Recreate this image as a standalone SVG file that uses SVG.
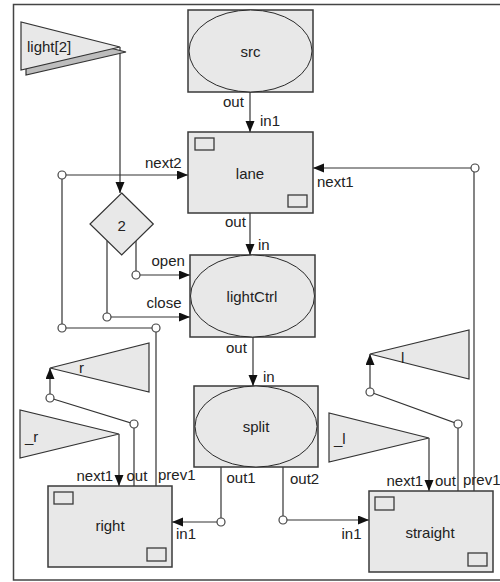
<svg xmlns="http://www.w3.org/2000/svg" width="500" height="582" viewBox="0 0 500 582">
<style>
text{font-family:"Liberation Sans",Arial,sans-serif;font-size:15px;fill:#222}
.box{fill:#e8e8e8;stroke:#3a3a3a;stroke-width:1.5}
.ell{fill:#e8e8e8;stroke:#2a2a2a;stroke-width:1}
.sm{fill:#e8e8e8;stroke:#3a3a3a;stroke-width:1.3}
.tri{fill:#e8e8e8;stroke:#333;stroke-width:1.2}
.ln{fill:none;stroke:#333;stroke-width:1.2}
.arr{fill:none;stroke:#333;stroke-width:1.2;marker-end:url(#ah)}
.dot{fill:#fff;stroke:#444;stroke-width:1.2}
.mid{text-anchor:middle}
</style>
<defs>
<marker id="ah" markerUnits="userSpaceOnUse" markerWidth="12" markerHeight="10" refX="11" refY="4.5" orient="auto">
<path d="M0,0 L11,4.5 L0,9 z" fill="#111"/>
</marker>
</defs>
<rect x="13.5" y="4.5" width="490" height="575.5" fill="#fff" stroke="#444" stroke-width="1.5"/>

<g id="connectors">
<path class="arr" d="M250,92 V132"/>
<path class="arr" d="M250,213 V255"/>
<path class="arr" d="M253,337 V386"/>
<path class="arr" d="M120,47 V193"/>
<path class="arr" d="M62,175 H188"/>
<path class="ln" d="M62,175 V328 H156 V486"/>
<path class="arr" d="M475,168 H313"/>
<path class="ln" d="M474,168 V491"/>
<path class="ln" d="M136,241 V275"/>
<path class="arr" d="M136,275 H190"/>
<path class="ln" d="M107,241 V317"/>
<path class="arr" d="M107,317 H190"/>
<path class="ln" d="M221,467 V522"/>
<path class="arr" d="M221,522 H172"/>
<path class="ln" d="M283,467 V520"/>
<path class="arr" d="M283,520 H369"/>
<path class="arr" d="M50,398 V368"/>
<path class="ln" d="M50,398 L134,424 V486"/>
<path class="arr" d="M119,434 V486"/>
<path class="arr" d="M370,392 V354"/>
<path class="ln" d="M370,392 L458,424 V491"/>
<path class="arr" d="M429,438 V491"/>
<circle class="dot" cx="62" cy="175" r="4"/>
<circle class="dot" cx="62" cy="328" r="4"/>
<circle class="dot" cx="156" cy="328" r="4"/>
<circle class="dot" cx="475" cy="168" r="4"/>
<circle class="dot" cx="136" cy="275" r="4"/>
<circle class="dot" cx="107" cy="317" r="4"/>
<circle class="dot" cx="221" cy="522" r="4"/>
<circle class="dot" cx="283" cy="520" r="4"/>
<circle class="dot" cx="50" cy="398" r="4"/>
<circle class="dot" cx="134" cy="424" r="4"/>
<circle class="dot" cx="370" cy="392" r="4"/>
<circle class="dot" cx="458" cy="424" r="4"/>
</g>

<g id="light2">
<polygon points="26,27 26,75 126,52" fill="#bdbdbd" stroke="#333" stroke-width="1.2"/>
<polygon class="tri" points="21,22 21,70 120,47"/>
<text x="27" y="52">light[2]</text>
</g>

<g id="src">
<rect class="box" x="188" y="10" width="125" height="82"/>
<ellipse class="ell" cx="250.5" cy="51" rx="61.5" ry="41"/>
<text class="mid" x="250.5" y="57">src</text>
<text x="223" y="107">out</text>
<text x="260" y="126">in1</text>
</g>

<g id="lane">
<rect class="box" x="188" y="132" width="125" height="81"/>
<rect class="sm" x="195" y="138" width="19" height="12"/>
<rect class="sm" x="288" y="195" width="19" height="12"/>
<text class="mid" x="250" y="179">lane</text>
<text x="145" y="168">next2</text>
<text x="317" y="186.5">next1</text>
<text x="225" y="227">out</text>
<text x="258" y="250">in</text>
</g>

<g id="decision">
<polygon class="tri" points="121.7,193 153.3,224 121.7,255 90,224"/>
<text class="mid" x="121.7" y="231">2</text>
</g>

<g id="lightCtrl">
<rect class="box" x="190" y="255" width="125" height="82"/>
<ellipse class="ell" cx="252.5" cy="296" rx="62" ry="41"/>
<text class="mid" x="252" y="302">lightCtrl</text>
<text x="151.5" y="266">open</text>
<text x="146.5" y="308">close</text>
<text x="226" y="353">out</text>
<text x="263" y="381.5">in</text>
</g>

<g id="split">
<rect class="box" x="194" y="386" width="124" height="81"/>
<ellipse class="ell" cx="256" cy="426.5" rx="61" ry="40.5"/>
<text class="mid" x="256" y="432">split</text>
<text x="226.5" y="483">out1</text>
<text x="290" y="484">out2</text>
</g>

<g id="gate_r">
<polygon class="tri" points="50,368 149,343 149,392"/>
<text x="79" y="373">r</text>
</g>

<g id="gate_nr">
<polygon class="tri" points="20,410 20,458 119,434"/>
<text x="25" y="442">_r</text>
</g>

<g id="gate_l">
<polygon class="tri" points="370,354 469,330 469,379"/>
<text x="401" y="362.5">l</text>
</g>

<g id="gate_nl">
<polygon class="tri" points="329,413 329,462 429,438"/>
<text x="334" y="444">_l</text>
</g>

<g id="right">
<rect class="box" x="48" y="486" width="124" height="81"/>
<rect class="sm" x="54" y="492" width="19" height="12"/>
<rect class="sm" x="147" y="548" width="19" height="13"/>
<text class="mid" x="110" y="531">right</text>
<text x="76.5" y="480.5">next1</text>
<text x="126.5" y="480.5">out</text>
<text x="158" y="479.5">prev1</text>
<text x="176" y="539">in1</text>
</g>

<g id="straight">
<rect class="box" x="369" y="491" width="124" height="81"/>
<rect class="sm" x="375" y="497" width="19" height="13"/>
<rect class="sm" x="468" y="553" width="19" height="13"/>
<text class="mid" x="430" y="538">straight</text>
<text x="386.5" y="485.5">next1</text>
<text x="435" y="485.5">out</text>
<text x="463" y="484.5">prev1</text>
<text x="341.5" y="539">in1</text>
</g>
</svg>
